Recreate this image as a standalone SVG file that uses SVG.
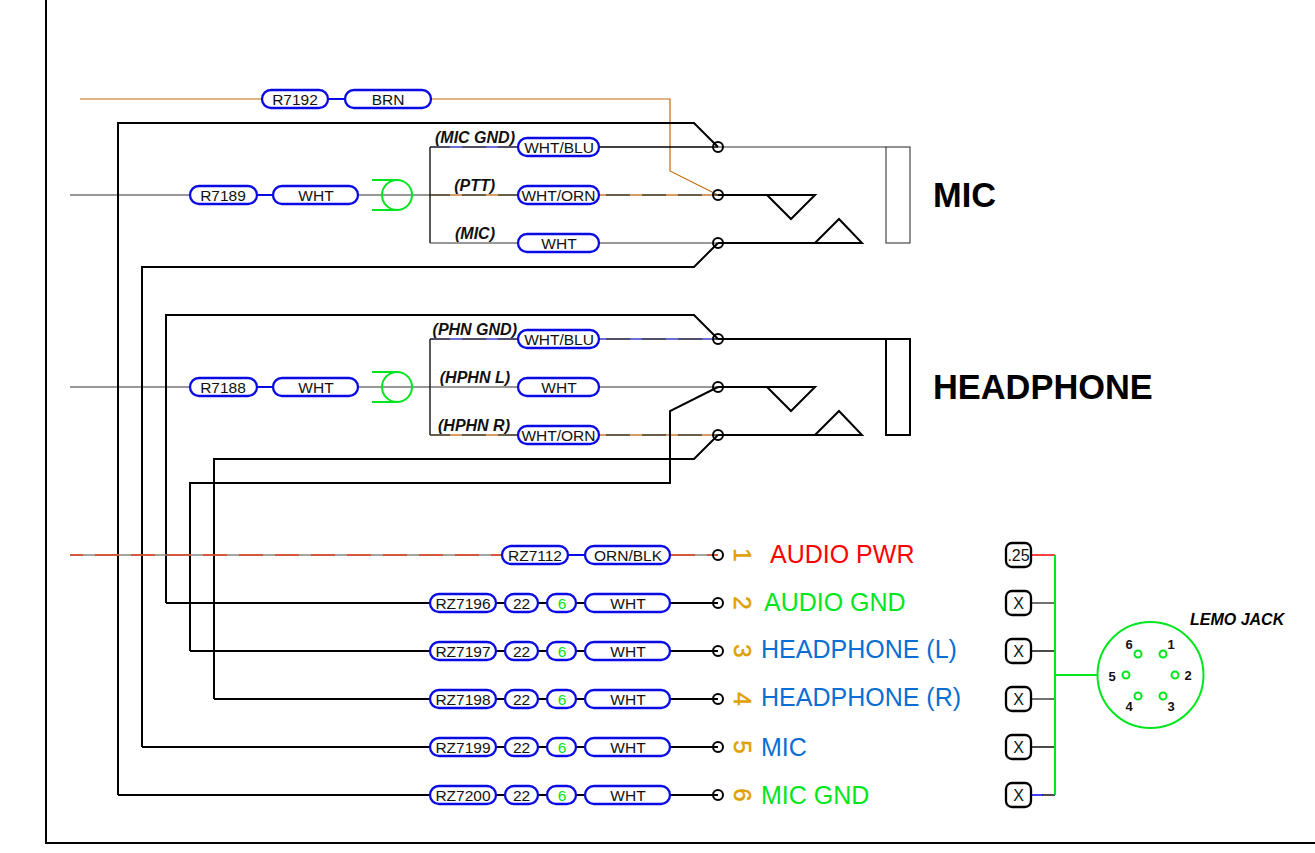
<svg xmlns="http://www.w3.org/2000/svg" width="1315" height="853" viewBox="0 0 1315 853">
<style>
text{font-family:"Liberation Sans",Arial,sans-serif}
.w{fill:none;stroke:#000;stroke-width:2}
.g{fill:none;stroke:#333;stroke-width:1.200}
.k{fill:none;stroke:#000;stroke-width:1.300}
.gr{fill:none;stroke:#00e61e;stroke-width:2}
.pl{fill:#fff;stroke:#0a0ae6;stroke-width:2.300}
.ln{fill:none;stroke:#0a0ae6;stroke-width:2}
.t{font-size:15.500px;text-anchor:middle;fill:#111}
.c{fill:none;stroke:#000;stroke-width:2}
.lb{font-size:16px;font-weight:bold;font-style:italic;text-anchor:end;fill:#111}
.h{font-size:34.400px;font-weight:bold;fill:#000}
.n{font-size:24px;fill:#e0a000;stroke:#e0a000;stroke-width:.5;text-anchor:middle}
.s{font-size:25px}
.x{fill:#fff;stroke:#000;stroke-width:2.300}
.xt{font-size:16px;text-anchor:middle;fill:#111}
.pin{font-size:13px;font-weight:bold;text-anchor:middle;fill:#111}
.da{fill:none;stroke:#3a2a10;stroke-width:1.500}
.lo{fill:none;stroke:#ffb070;stroke-width:1.500;stroke-dasharray:12 24;stroke-dashoffset:16}
.db{fill:none;stroke:#14143c;stroke-width:1.500}
.lbu{fill:none;stroke:#7a7aff;stroke-width:1.500;stroke-dasharray:12 24;stroke-dashoffset:16}
</style>
<rect width="1315" height="853" fill="#fff"/>
<path id="frame" class="w" d="M46 0V843H1315"/>
<g id="connectors">
<path d="M80 99H670V171L718 195" fill="none" stroke="#c06a10" stroke-width="1.200"/>
<path class="g" d="M70 195H430M70 387H430"/>
<path class="k" d="M430 147V243M430 339V435"/>
<path class="g" d="M430 243H718M430 387H718"/>
<path class="k" d="M518 147H718"/>
<path class="g" d="M718 147H886"/>
<path class="da" d="M430 195H718M430 435H718"/>
<path class="lo" d="M430 195H718"/>
<path class="lo" d="M430 435H718"/>
<path class="db" d="M430 339H718M430 147H518"/>
<path class="lbu" d="M430 339H718"/>
<path class="lbu" d="M430 147H518"/>
<path class="w" d="M118 795V123H694L718 147M142 747V267H694L718 243M166 603V315H694L718 339M190 651V483H670V411L718 387M214 699V459H694L718 435"/>
<path class="w" d="M718 195H815L791 219L767 195M718 243H862L839 219L815 243"/>
<path class="w" d="M718 339H910V435H886V339M718 387H815L791 411L767 387M718 435H862L839 411L815 435"/>
<rect x="886" y="147" width="24" height="96" fill="none" stroke="#222" stroke-width="1"/>
<path d="M70 555H718" fill="none" stroke="#888" stroke-width="1.500"/>
<path d="M70 555H718" fill="none" stroke="#e0401a" stroke-width="1.500" stroke-dasharray="24 12" stroke-dashoffset="11"/>
<path class="w" d="M118 795H718M142 747H718M166 603H718M190 651H718M214 699H718"/>
<path class="ln" d="M328 99H345M257 195H273M257 387H273M568 555H585"/>
<path d="M1031 555H1055" fill="none" stroke="#f00" stroke-width="1.500"/>
<path d="M1031 603H1055M1031 699H1055" fill="none" stroke="#444" stroke-width="1.500"/>
<path d="M1031 651H1055M1031 747H1055M1042 795H1055" fill="none" stroke="#111" stroke-width="1.500"/>
<path d="M1031 795H1043" fill="none" stroke="#00f" stroke-width="1.500"/>
<path class="gr" d="M1055 555V795M1055 675H1097"/>
<path class="gr" d="M372 180H397M372 210H397M372 372H397M372 402H397"/>
</g>
<g id="shield1"><circle class="gr" cx="397" cy="195" r="15"/></g>
<g id="shield2"><circle class="gr" cx="397" cy="387" r="15"/></g>
<g id="r7192"><rect class="pl" x="262" y="90" width="66" height="18" rx="9"/><text class="t" x="295" y="105">R7192</text></g>
<g id="brn"><rect class="pl" x="345" y="90" width="86" height="18" rx="9"/><text class="t" x="388" y="105">BRN</text></g>
<g id="r7189"><rect class="pl" x="190" y="186" width="67" height="18" rx="9"/><text class="t" x="223" y="201">R7189</text></g>
<g id="wht1"><rect class="pl" x="273" y="186" width="85" height="18" rx="9"/><text class="t" x="316" y="201">WHT</text></g>
<g id="r7188"><rect class="pl" x="190" y="378" width="67" height="18" rx="9"/><text class="t" x="223" y="393">R7188</text></g>
<g id="wht2"><rect class="pl" x="273" y="378" width="85" height="18" rx="9"/><text class="t" x="316" y="393">WHT</text></g>
<g id="p1"><rect class="pl" x="518" y="138" width="81" height="18" rx="9"/><text class="t" x="559" y="153">WHT/BLU</text></g>
<g id="p2"><rect class="pl" x="518" y="186" width="81" height="18" rx="9"/><text class="t" x="558.500" y="201">WHT/ORN</text></g>
<g id="p3"><rect class="pl" x="518" y="234" width="81" height="18" rx="9"/><text class="t" x="559" y="249">WHT</text></g>
<g id="p4"><rect class="pl" x="518" y="330" width="81" height="18" rx="9"/><text class="t" x="559" y="345">WHT/BLU</text></g>
<g id="p5"><rect class="pl" x="518" y="378" width="81" height="18" rx="9"/><text class="t" x="559" y="393">WHT</text></g>
<g id="p6"><rect class="pl" x="518" y="426" width="81" height="18" rx="9"/><text class="t" x="558.500" y="441">WHT/ORN</text></g>
<g id="rz7112"><rect class="pl" x="502" y="546" width="66" height="18" rx="9"/><text class="t" x="535" y="561">RZ7112</text></g>
<g id="ornblk"><rect class="pl" x="585" y="546" width="85" height="18" rx="9"/><text class="t" x="628" y="561">ORN/BLK</text></g>
<g id="row2"><rect class="pl" x="430" y="594" width="66" height="18" rx="9"/><text class="t" x="463" y="609">RZ7196</text><rect class="pl" x="505" y="594" width="33" height="18" rx="9"/><text class="t" x="521.500" y="609">22</text><rect class="pl" x="547" y="594" width="29" height="18" rx="9"/><text class="t" x="562" y="609" style="fill:#00e61e">6</text><rect class="pl" x="585" y="594" width="85" height="18" rx="9"/><text class="t" x="628" y="609">WHT</text></g>
<g id="row3"><rect class="pl" x="430" y="642" width="66" height="18" rx="9"/><text class="t" x="463" y="657">RZ7197</text><rect class="pl" x="505" y="642" width="33" height="18" rx="9"/><text class="t" x="521.500" y="657">22</text><rect class="pl" x="547" y="642" width="29" height="18" rx="9"/><text class="t" x="562" y="657" style="fill:#00e61e">6</text><rect class="pl" x="585" y="642" width="85" height="18" rx="9"/><text class="t" x="628" y="657">WHT</text></g>
<g id="row4"><rect class="pl" x="430" y="690" width="66" height="18" rx="9"/><text class="t" x="463" y="705">RZ7198</text><rect class="pl" x="505" y="690" width="33" height="18" rx="9"/><text class="t" x="521.500" y="705">22</text><rect class="pl" x="547" y="690" width="29" height="18" rx="9"/><text class="t" x="562" y="705" style="fill:#00e61e">6</text><rect class="pl" x="585" y="690" width="85" height="18" rx="9"/><text class="t" x="628" y="705">WHT</text></g>
<g id="row5"><rect class="pl" x="430" y="738" width="66" height="18" rx="9"/><text class="t" x="463" y="753">RZ7199</text><rect class="pl" x="505" y="738" width="33" height="18" rx="9"/><text class="t" x="521.500" y="753">22</text><rect class="pl" x="547" y="738" width="29" height="18" rx="9"/><text class="t" x="562" y="753" style="fill:#00e61e">6</text><rect class="pl" x="585" y="738" width="85" height="18" rx="9"/><text class="t" x="628" y="753">WHT</text></g>
<g id="row6"><rect class="pl" x="430" y="786" width="66" height="18" rx="9"/><text class="t" x="463" y="801">RZ7200</text><rect class="pl" x="505" y="786" width="33" height="18" rx="9"/><text class="t" x="521.500" y="801">22</text><rect class="pl" x="547" y="786" width="29" height="18" rx="9"/><text class="t" x="562" y="801" style="fill:#00e61e">6</text><rect class="pl" x="585" y="786" width="85" height="18" rx="9"/><text class="t" x="628" y="801">WHT</text></g>
<g id="contacts">
<circle class="c" cx="718" cy="147" r="5"/><circle class="c" cx="718" cy="195" r="5"/><circle class="c" cx="718" cy="243" r="5"/>
<circle class="c" cx="718" cy="339" r="5"/><circle class="c" cx="718" cy="387" r="5"/><circle class="c" cx="718" cy="435" r="5"/>
<circle class="c" cx="718" cy="555" r="5"/><circle class="c" cx="718" cy="603" r="5"/><circle class="c" cx="718" cy="651" r="5"/>
<circle class="c" cx="718" cy="699" r="5"/><circle class="c" cx="718" cy="747" r="5"/><circle class="c" cx="718" cy="795" r="5"/>
</g>
<g id="labels">
<text class="lb" x="515" y="143">(MIC GND)</text>
<text class="lb" x="495" y="191">(PTT)</text>
<text class="lb" x="495" y="239">(MIC)</text>
<text class="lb" x="517" y="335">(PHN GND)</text>
<text class="lb" x="510" y="383">(HPHN L)</text>
<text class="lb" x="510" y="431">(HPHN R)</text>
<text class="h" x="933" y="207">MIC</text>
<text class="h" x="933" y="399">HEADPHONE</text>
<text class="n" transform="translate(734 555) rotate(90)">1</text>
<text class="n" transform="translate(734 603) rotate(90)">2</text>
<text class="n" transform="translate(734 651) rotate(90)">3</text>
<text class="n" transform="translate(734 699) rotate(90)">4</text>
<text class="n" transform="translate(734 747) rotate(90)">5</text>
<text class="n" transform="translate(734 795) rotate(90)">6</text>
<text class="s" x="770" y="563" fill="#f00">AUDIO PWR</text>
<text class="s" x="764" y="611" fill="#00e61e">AUDIO GND</text>
<text class="s" x="761" y="658" fill="#0a6ed2">HEADPHONE (L)</text>
<text class="s" x="761" y="706" fill="#0a6ed2">HEADPHONE (R)</text>
<text class="s" x="761" y="756" fill="#0a6ed2">MIC</text>
<text class="s" x="761" y="804" fill="#00e61e">MIC GND</text>
</g>
<g id="xbox">
<rect class="x" x="1006" y="543" width="25" height="24" rx="6"/><text class="xt" x="1018.500" y="561">.25</text>
<rect class="x" x="1006" y="591" width="25" height="24" rx="6"/><text class="xt" x="1018.500" y="609">X</text>
<rect class="x" x="1006" y="639" width="25" height="24" rx="6"/><text class="xt" x="1018.500" y="657">X</text>
<rect class="x" x="1006" y="687" width="25" height="24" rx="6"/><text class="xt" x="1018.500" y="705">X</text>
<rect class="x" x="1006" y="735" width="25" height="24" rx="6"/><text class="xt" x="1018.500" y="753">X</text>
<rect class="x" x="1006" y="783" width="25" height="24" rx="6"/><text class="xt" x="1018.500" y="801">X</text>
</g>
<g id="lemo">
<circle class="gr" cx="1150.500" cy="675" r="53"/>
<circle class="gr" cx="1163" cy="654" r="3.500"/><circle class="gr" cx="1175" cy="675" r="3.500"/><circle class="gr" cx="1163" cy="696" r="3.500"/><circle class="gr" cx="1138" cy="696" r="3.500"/><circle class="gr" cx="1126" cy="675" r="3.500"/><circle class="gr" cx="1138" cy="654" r="3.500"/>
<text class="pin" x="1171" y="649">1</text><text class="pin" x="1188" y="680">2</text><text class="pin" x="1171" y="711">3</text><text class="pin" x="1129" y="711">4</text><text class="pin" x="1112" y="681">5</text><text class="pin" x="1129" y="649">6</text>
<text x="1190" y="625" font-size="16" font-weight="bold" font-style="italic" fill="#000">LEMO JACK</text>
</g>
</svg>
